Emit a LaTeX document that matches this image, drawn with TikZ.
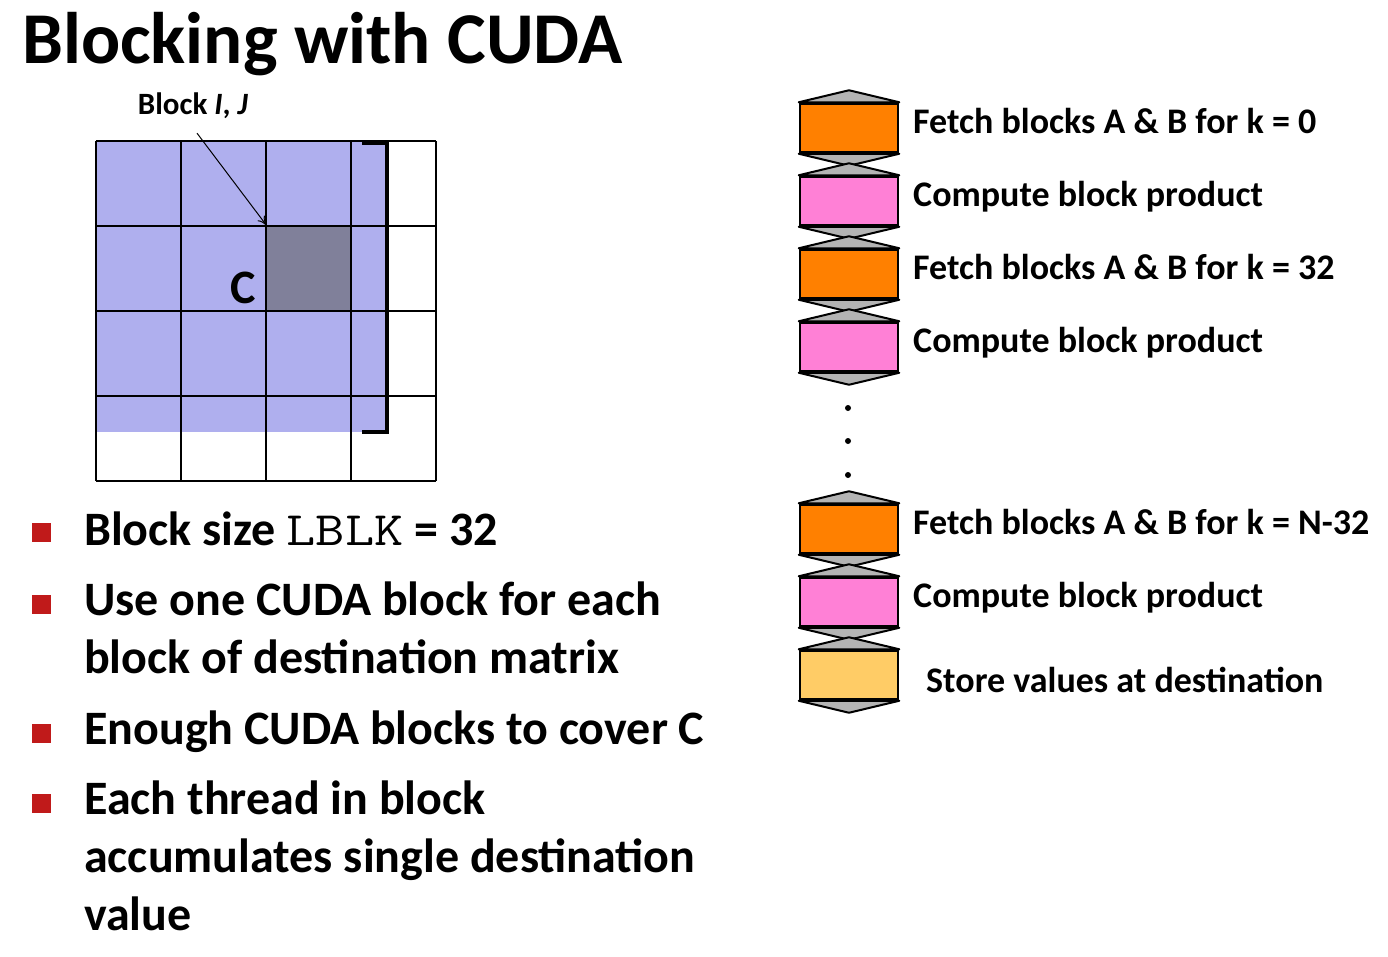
\documentclass[tikz,border=0pt]{standalone}
\usepackage{fontspec}
\setmainfont{Carlito}
\usetikzlibrary{calc, arrows.meta}

\definecolor{fetchc}{HTML}{FF8000}
\definecolor{multc}{HTML}{FF80D6}
\definecolor{storec}{HTML}{FFCC66}
\definecolor{wedgec}{HTML}{B4B4B4}
\definecolor{blockc}{HTML}{AFAFEE}
\definecolor{cellc}{HTML}{80809A}
\definecolor{bulletc}{HTML}{C01A1A}

\tikzset{
  stage/.style={draw, line width=2.5pt, minimum width=98pt, minimum height=49pt, inner sep=0pt},
  wedge/.style={fill=wedgec, draw, line width=2pt, line join=round},
  steptext/.style={anchor=base west, inner sep=0pt, font=\fontsize{36}{40}\selectfont\bfseries},
  itemtext/.style={anchor=base west, inner sep=0pt, font=\fontsize{48}{58}\selectfont\bfseries},
  bullet/.style={fill=bulletc, minimum size=19pt, inner sep=0pt},
  dot/.style={circle, fill=black, minimum size=6pt, inner sep=0pt},
  gridline/.style={line width=1.6pt},
}

\begin{document}
\begin{tikzpicture}[x=1pt, y=-1pt]
      \useasboundingbox (0,0) rectangle (1388,956);
      % title
      \node[anchor=base west, inner sep=0pt, font=\fontsize{73}{78}\selectfont\bfseries] (title) at (22,63) {Blocking with CUDA};

      % matrix C
      \fill[blockc] (96,141) rectangle (387,432);
      \fill[cellc] (267,226) rectangle (352,311);
      \foreach \i in {0,...,4} {
        \draw[gridline] (96+85*\i,141) -- (96+85*\i,481);
        \draw[gridline] (96,141+85*\i) -- (436,141+85*\i);
      }
      \draw[line width=3.5pt] (362,143) -- (387,143) -- (387,432) -- (362,432);
      \node[font=\fontsize{48}{50}\selectfont\bfseries] (clbl) at (243,288) {C};
      \node[inner sep=0pt, font=\fontsize{31}{34}\selectfont\bfseries] (blk) at (193,106) {Block \textit{I}, \textit{J}};
      \coordinate (corner) at (267,226);
      \draw[-{To[length=10pt, width=9pt]}, line width=1pt] ($(blk.south)+(4,14)$) -- (corner);

      % bullets
      \node[bullet] (b1) at (41,532) {};
      \node[bullet] (b2) at (41,604) {};
      \node[bullet] (b3) at (41,733) {};
      \node[bullet] (b4) at (41,803) {};
      \node[itemtext] (i1) at (84,545) {Block size \scalebox{1.18}[1]{\texttt{\mdseries LBLK}} = 32};
      \node[itemtext] (i2) at (84,615) {Use one CUDA block for each};
      \node[itemtext] (i2b) at (84,673) {block of destination matrix};
      \node[itemtext] (i3) at (84,744) {Enough CUDA blocks to cover C};
      \node[itemtext] (i4) at (84,814) {Each thread in block};
      \node[itemtext] (i4b) at (84,872) {accumulates single destination};
      \node[itemtext] (i4c) at (84,930) {value};

      % pipeline
      \node[stage, fill=fetchc] (s1) at (849,128) {};
      \node[stage, fill=multc] (s2) at (849,201) {};
      \node[stage, fill=fetchc] (s3) at (849,274) {};
      \node[stage, fill=multc] (s4) at (849,347) {};
      \node[stage, fill=fetchc] (s5) at (849,529) {};
      \node[stage, fill=multc] (s6) at (849,602) {};
      \node[stage, fill=storec] (s7) at (849,675) {};
      \foreach \s in {s1,s2,s3,s4,s5,s6,s7} {
        \filldraw[wedge] (\s.north west) -- ($(\s.north)+(0,-12)$) -- (\s.north east) -- cycle;
        \filldraw[wedge] (\s.south west) -- ($(\s.south)+(0,12)$) -- (\s.south east) -- cycle;
      }
      \node[dot] (d1) at (848,408) {};
      \node[dot] (d2) at (848,441) {};
      \node[dot] (d3) at (848,475) {};

      \node[steptext] (t1) at (913,133) {Fetch blocks A \& B for k = 0};
      \node[steptext] (t2) at (913,206) {Compute block product};
      \node[steptext] (t3) at (913,279) {Fetch blocks A \& B for k = 32};
      \node[steptext] (t4) at (913,352) {Compute block product};
      \node[steptext] (t5) at (913,534) {Fetch blocks A \& B for k = N-32};
      \node[steptext] (t6) at (913,607) {Compute block product};
      \node[steptext] (t7) at (926,692) {Store values at destination};
    \end{tikzpicture}
\end{document}
